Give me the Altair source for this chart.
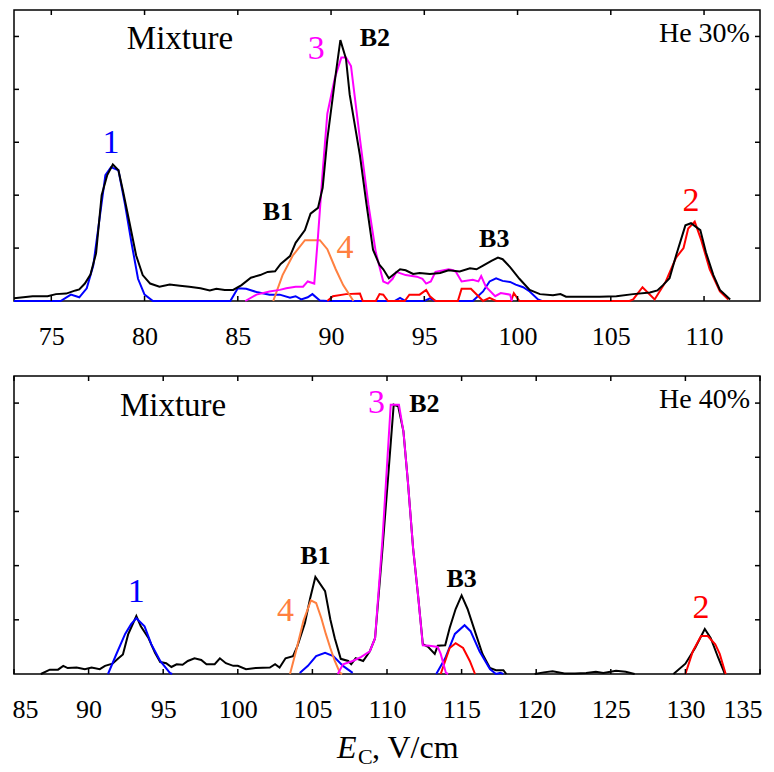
import math
import altair as alt
import pandas as pd

NaN = float("nan")

# ---------------- top panel (He 30%) ----------------
top_black_x = [73.0, 74.0, 74.8, 75.25, 75.8, 76.3, 76.5, 76.8, 77.1, 77.4, 77.7, 78.0, 78.3, 78.6, 78.85,
               79.2, 79.55, 79.9, 80.3, 80.8, 81.35, 81.9, 82.4, 83.0, 83.5, 83.85, 84.3, 84.75, 85.2,
               85.7, 86.2, 86.6, 87.0, 87.3, 87.8, 88.1, 88.6, 88.9, 89.3, 89.55, 89.8, 90.27, 90.5,
               90.8, 91.0, 91.55, 91.9, 92.25, 92.6, 92.8, 93.1, 93.7, 94.0, 94.4, 94.75, 95.3, 95.85,
               96.3, 96.9, 97.45, 97.8, 98.15, 98.6, 98.95, 99.2, 99.6, 100.1, 100.65, 101.2, 101.9,
               102.3, 102.6, 103.5, 104.4, 105.3, 106.2, 107.1, 107.5, 107.8, 108.15, 108.5, 109.0,
               109.3, 109.8, 110.1, 110.5, 110.85, 111.4]
top_black_y = [0.05, 0.09, 0.09, 0.13, 0.14, 0.2, 0.22, 0.33, 0.5, 0.9, 2.0, 2.38, 2.58, 2.47, 2.07,
               1.47, 0.86, 0.49, 0.33, 0.27, 0.31, 0.29, 0.27, 0.24, 0.2, 0.23, 0.21, 0.21, 0.3,
               0.44, 0.49, 0.55, 0.56, 0.7, 0.85, 1.1, 1.34, 1.65, 1.76, 2.14, 3.06, 4.34, 4.93,
               4.58, 3.9, 2.75, 1.83, 0.97, 0.68, 0.6, 0.43, 0.6, 0.58, 0.51, 0.53, 0.51, 0.53,
               0.58, 0.56, 0.62, 0.6, 0.67, 0.76, 0.82, 0.79, 0.64, 0.42, 0.21, 0.13, 0.11,
               0.13, 0.08, 0.08, 0.08, 0.09, 0.13, 0.16, 0.2, 0.3, 0.43, 0.86, 1.43,
               1.47, 1.34, 0.92, 0.49, 0.21, 0.03]

top_blue_x = [73.0, 75.5, 76.05, 76.5, 76.9, 77.25, 77.6, 77.9, 78.2, 78.6, 78.95, 79.3, 79.65, 80.0,
              80.45, 84.6, 85.0, 85.45, 86.0, 86.7, 87.25, 87.8, 88.1, 88.4, 88.75, 89.0, 89.4, 89.8,
              93.4, 93.7, 94.0, 95.0, 95.3, 95.6, 97.6, 98.15, 98.5, 98.85, 99.2, 99.6, 99.9, 100.3,
              100.65, 101.1, 101.3]
top_blue_y = [0, 0, 0.12, 0.07, 0.24, 0.67, 1.59, 2.38, 2.53, 2.47, 1.83, 1.1, 0.42, 0.12,
              0, 0, 0.24, 0.23, 0.17, 0.12, 0.12, 0.06, 0.09, 0.03, 0.07, 0.13, 0.01, 0,
              0, 0.06, 0, 0, 0.05, 0, 0, 0.18, 0.37, 0.43, 0.38, 0.36, 0.31, 0.26,
              0.18, 0.03, 0]

top_magenta_x = [85.4, 86.0, 86.7, 87.25, 87.6, 88.1, 88.5, 88.75, 89.1, 89.3, 89.55, 89.8, 90.2, 90.55,
                 90.8, 91.07, 91.55, 92.0, 92.4, 92.8, 93.05, 93.3, 93.5, 94.0, 94.6, 94.9, 95.1, 95.35,
                 95.6, 96.3, 96.55, 96.7, 97.0, 97.6, 97.9, 98.05, 98.3, 98.8, 99.1, 99.6, 99.7]
top_magenta_y = [0, 0.12, 0.18, 0.21, 0.24, 0.27, 0.27, 0.37, 0.33, 1.22, 2.44, 3.54, 4.21, 4.6,
                 4.6, 4.44, 3.06, 1.83, 0.92, 0.37, 0.33, 0.42, 0.55, 0.49, 0.46, 0.42, 0.33, 0.37,
                 0.55, 0.6, 0.58, 0.55, 0.37, 0.4, 0.37, 0.47, 0.27, 0.09, 0.15, 0.12, 0]

top_orange_x = [86.9, 87.4, 87.95, 88.6, 89.4, 89.8, 90.25, 90.65, 91.2]
top_orange_y = [0, 0.49, 0.86, 1.15, 1.15, 0.98, 0.6, 0.3, 0]

top_red_x = [89.8, 90.1, 90.8, 91.55, 91.7, 92.4, 92.6, 92.8, 93.05, 93.95, 94.2, 94.75, 95.1, 95.3,
             95.6, 96.8, 97.0, 97.5, 97.9, 98.15, 98.5, 98.85, 99.65, 99.8, 100.1, 106.0, 106.2,
             106.7, 107.35, 107.95, 108.5, 108.9, 109.15, 109.5, 109.85, 110.3, 110.85, 111.3]
top_red_y = [0, 0.09, 0.13, 0.14, 0, 0, 0.13, 0.12, 0, 0, 0.12, 0.12, 0.21, 0.09,
             0, 0, 0.23, 0.23, 0.09, 0, 0.06, 0, 0, 0.15, 0, 0, 0.03,
             0.26, 0.03, 0.37, 0.82, 1.0, 1.37, 1.5, 1.15, 0.6, 0.18, 0.03]

# ---------------- bottom panel (He 40%) ----------------
bot_black_x = [86.8, 87.4, 87.95, 88.3, 88.6, 89.2, 89.75, 90.2, 90.75, 91.1, 91.6, 92.0, 92.3, 92.65,
               93.2, 93.5, 94.0, 94.45, 94.8, 95.2, 95.55, 95.9, 96.3, 96.65, 97.1, 97.55, 97.9, 98.45,
               98.8, 99.2, 99.7, 100.0, 100.55, 101.2, 102.15, 102.5, 102.8, 103.2, 103.7, 104.0,
               104.5, 104.85, 105.2, 105.85, 106.2, 106.5, 106.9, 107.4, 107.6, 107.9, 108.4, 108.85,
               109.2, 109.7, 110.05, 110.45, 110.75, 111.1, 111.4, 111.75, 112.1, 112.4, 112.75,
               113.2, 113.4, 113.9, 114.2, 114.6, 115.0, 115.4, 115.95, 116.4, 116.9, 117.3, 117.8,
               118.0, NaN, 119.9, 120.5, 121.1, 121.9, 122.6, 123.35, 124.0, 124.5, 125.35, 126.0,
               126.6, NaN, 129.2, 130.0, 130.65, 131.3, 131.7, 132.2, 132.65]
bot_black_y = [0, 0.08, 0.08, 0.15, 0.11, 0.12, 0.09, 0.12, 0.09, 0.15, 0.19, 0.29, 0.36, 0.73,
               1.07, 0.88, 0.67, 0.39, 0.22, 0.2, 0.13, 0.18, 0.17, 0.24, 0.29, 0.26, 0.18, 0.18,
               0.29, 0.2, 0.15, 0.15, 0.09, 0.11, 0.12, 0.18, 0.12, 0.29, 0.33, 0.52,
               0.94, 1.4, 1.79, 1.53, 1.01, 0.66, 0.28, 0.24, 0.18, 0.29, 0.24, 0.42,
               0.66, 2.32, 3.55, 4.97, 4.94, 4.48, 3.55, 2.32, 1.4, 0.55, 0.5,
               0.37, 0.52, 0.53, 0.85, 1.2, 1.45, 1.2, 0.74, 0.37, 0.11, 0.07, 0.07,
               0, NaN, 0, 0.03, 0.05, 0.01, 0.01, 0.02, 0.04, 0.02, 0.06, 0.04,
               0, NaN, 0, 0.19, 0.48, 0.83, 0.66, 0.3, 0]

bot_blue_x = [91.3, 91.85, 92.45, 92.85, 93.2, 93.75, 94.2, 94.8, 95.45, 95.6, NaN,
              104.15, 104.7, 105.25, 105.85, 106.4, 107.05, 107.7, NaN,
              113.3, 113.9, 114.55, 115.2, 115.6, 116.2, 116.9, 117.3, 117.6, 117.8]
bot_blue_y = [0, 0.36, 0.74, 0.92, 1.03, 0.88, 0.55, 0.24, 0.02, 0, NaN,
              0.02, 0.15, 0.33, 0.39, 0.33, 0.15, 0.02, NaN,
              0, 0.29, 0.74, 0.9, 0.79, 0.42, 0.09, 0, 0.02, 0]

bot_magenta_x = [106.7, 107.05, 107.7, 108.25, 108.85, 109.2, 109.7, 110.25, 110.6, 110.8, 111.1,
                 111.4, 111.75, 112.1, 112.4, 112.85, 113.4, 113.6, 113.95, 114.1]
bot_magenta_y = [0, 0.18, 0.24, 0.31, 0.42, 0.66, 2.5, 4.97, 4.97, 4.97, 4.48,
                 3.55, 2.32, 1.4, 0.53, 0.52, 0.5, 0.37, 0.02, 0]

bot_orange_x = [103.5, 103.9, 104.4, 104.9, 105.25, 105.6, 105.9, 106.2, 106.5, 106.85, 107.0]
bot_orange_y = [0, 0.42, 0.98, 1.36, 1.31, 1.03, 0.74, 0.48, 0.24, 0.02, 0]

bot_red_x = [113.6, 114.2, 114.6, 115.1, 115.55, 115.9, NaN,
             130.0, 130.5, 131.05, 131.5, 132.0, 132.3, 132.7]
bot_red_y = [0, 0.48, 0.57, 0.48, 0.24, 0, NaN,
             0, 0.42, 0.7, 0.7, 0.55, 0.37, 0]

# ---------------- ticks & annotations ----------------
top_xticks = [75, 80, 85, 90, 95, 100, 105, 110]
bot_xticks = [85, 90, 95, 100, 105, 110, 115, 120, 125, 130, 135]
yticks = [1, 2, 3, 4, 5]

top_num_labels = ["1", "3", "4", "2"]
top_num_x = [78.2, 89.2, 90.75, 109.3]
top_num_y = [2.98, 4.76, 1.0, 1.89]
top_num_col = ["#0000ff", "#ff00ff", "#ff8040", "#ff0000"]
top_b_labels = ["B1", "B2", "B3"]
top_b_x = [87.15, 92.35, 98.75]
top_b_y = [1.68, 4.98, 1.17]

bot_num_labels = ["1", "4", "3", "2"]
bot_num_x = [93.2, 103.2, 109.3, 131.05]
bot_num_y = [1.51, 1.16, 5.0, 1.21]
bot_num_col = ["#0000ff", "#ff8040", "#ff00ff", "#ff0000"]
bot_b_labels = ["B1", "B2", "B3"]
bot_b_x = [105.2, 112.5, 115.0]
bot_b_y = [2.17, 4.99, 1.75]

FONT = "Liberation Serif, Times New Roman, serif"
W = 746
H_TOP = 291
H_BOT = 298
TICK = 5


def series_df(xs, ys):
    rows = []
    seg = 0
    for i, (a, b) in enumerate(zip(xs, ys)):
        if isinstance(a, float) and math.isnan(a):
            seg += 1
            continue
        rows.append({"x": a, "v": b, "seg": seg, "i": i})
    return pd.DataFrame(rows)


def panel(xdom, xticks, h, series, nums, bs, mixture_xy, he_text, he_xy, extra=None):
    xs = alt.Scale(domain=xdom, nice=False, zero=False)
    ys = alt.Scale(domain=[0, 5.5], nice=False, zero=False)
    X = alt.X("x:Q", scale=xs, title=None,
              axis=alt.Axis(values=xticks, ticks=False, domain=False, grid=False,
                            labelFont=FONT, labelFontSize=26, labelColor="black",
                            labelPadding=22, labelFlush=True, labelFlushOffset=2,
                            labelOverlap=False))
    Y = alt.Y("v:Q", scale=ys, title=None, axis=None)

    layers = []
    for (xl, yl, col) in series:
        df = series_df(xl, yl)
        layers.append(alt.Chart(df).mark_line(color=col, strokeWidth=2).encode(
            x=X, y=Y, detail="seg:N", order="i:Q"))

    tx = pd.DataFrame({"x": xticks})
    layers.append(alt.Chart(tx).mark_rule(color="black", strokeWidth=1.5).encode(
        x=X, y=alt.value(0), y2=alt.value(TICK)))
    layers.append(alt.Chart(tx).mark_rule(color="black", strokeWidth=1.5).encode(
        x=X, y=alt.value(h), y2=alt.value(h - TICK)))
    ty = pd.DataFrame({"v": yticks})
    layers.append(alt.Chart(ty).mark_rule(color="black", strokeWidth=1.5).encode(
        y=Y, x=alt.value(0), x2=alt.value(TICK)))
    layers.append(alt.Chart(ty).mark_rule(color="black", strokeWidth=1.5).encode(
        y=Y, x=alt.value(W - TICK), x2=alt.value(W)))

    labs, lx, ly, lc = nums
    dn = pd.DataFrame({"t": labs, "x": lx, "v": ly, "c": lc})
    layers.append(alt.Chart(dn).mark_text(font=FONT, fontSize=34, baseline="middle").encode(
        x=X, y=Y, text="t:N", color=alt.Color("c:N", scale=None)))
    bl, bx, by = bs
    db = pd.DataFrame({"t": bl, "x": bx, "v": by})
    layers.append(alt.Chart(db).mark_text(font=FONT, fontSize=26, fontWeight="bold",
                                          baseline="middle", color="black").encode(
        x=X, y=Y, text="t:N"))
    dm = pd.DataFrame({"t": ["Mixture"], "x": [mixture_xy[0]], "v": [mixture_xy[1]]})
    layers.append(alt.Chart(dm).mark_text(font=FONT, fontSize=33, baseline="middle",
                                          color="black").encode(x=X, y=Y, text="t:N"))
    dh = pd.DataFrame({"t": [he_text], "x": [he_xy[0]], "v": [he_xy[1]]})
    layers.append(alt.Chart(dh).mark_text(font=FONT, fontSize=28, baseline="middle", align="right",
                                          color="black").encode(x=X, y=Y, text="t:N"))
    if extra:
        layers.extend(extra)
    return alt.layer(*layers).properties(width=W, height=h)


top = panel([73, 113], top_xticks, H_TOP,
            [(top_blue_x, top_blue_y, "#0000ff"),
             (top_red_x, top_red_y, "#ff0000"),
             (top_orange_x, top_orange_y, "#ff8040"),
             (top_magenta_x, top_magenta_y, "#ff00ff"),
             (top_black_x, top_black_y, "black")],
            (top_num_labels, top_num_x, top_num_y, top_num_col),
            (top_b_labels, top_b_x, top_b_y),
            (81.9, 4.96), "He 30%", (112.46, 5.05))

dummy = pd.DataFrame({"t": ["E", "C", ", V/cm"]})
title_layers = [
    alt.Chart(dummy.iloc[[0]]).mark_text(font=FONT, fontSize=32, fontStyle="italic", align="left",
                                         baseline="alphabetic", color="black").encode(
        text="t:N", x=alt.value(323), y=alt.value(H_BOT + 84)),
    alt.Chart(dummy.iloc[[1]]).mark_text(font=FONT, fontSize=22, align="left",
                                         baseline="alphabetic", color="black").encode(
        text="t:N", x=alt.value(344), y=alt.value(H_BOT + 90)),
    alt.Chart(dummy.iloc[[2]]).mark_text(font=FONT, fontSize=32, align="left",
                                         baseline="alphabetic", color="black").encode(
        text="t:N", x=alt.value(358), y=alt.value(H_BOT + 84)),
]

bottom = panel([85, 135], bot_xticks, H_BOT,
               [(bot_black_x, bot_black_y, "black"),
                (bot_blue_x, bot_blue_y, "#0000ff"),
                (bot_red_x, bot_red_y, "#ff0000"),
                (bot_orange_x, bot_orange_y, "#ff8040"),
                (bot_magenta_x, bot_magenta_y, "#ff00ff")],
               (bot_num_labels, bot_num_x, bot_num_y, bot_num_col),
               (bot_b_labels, bot_b_x, bot_b_y),
               (95.66, 4.94), "He 40%", (134.33, 5.05), extra=title_layers)

chart = alt.vconcat(top, bottom, spacing=75, bounds="flush").properties(
    padding={"left": 1, "top": 0, "right": 0, "bottom": 0}
).configure_view(stroke="black", strokeWidth=1.5).configure_axis(labelFont=FONT)

chart.save("out.html", embed_options={"renderer": "svg", "actions": False})
